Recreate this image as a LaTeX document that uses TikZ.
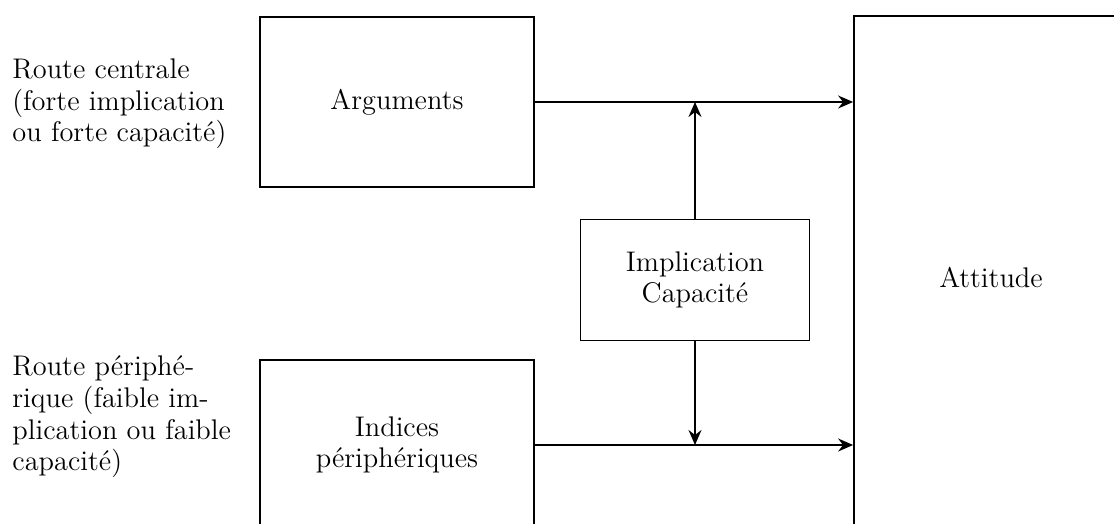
\documentclass[tikz,border=0pt]{standalone}
\usetikzlibrary{arrows.meta}

\tikzset{
	box/.style={draw, line width=0.9pt, inner sep=0pt, align=center},
	link/.style={line width=0.9pt, -{Stealth[length=7.5pt,width=6.5pt,inset=2.5pt]}},
	txt/.style={align=left, inner sep=0pt, anchor=west}
}

\begin{document}
\begin{tikzpicture}[x=0.5pt, y=-0.5pt, font=\fontsize{14.2}{15.8}\selectfont]
			%%%%% START %%%%%
			\useasboundingbox (0, 0) rectangle (1114, 524);
			\clip (0, 0) rectangle (1114, 524);
			
			\node[box, minimum width=137pt, minimum height=85pt] (arg) at (397, 102) {Arguments};
			\node[box, minimum width=137pt, minimum height=85pt] (ind) at (397, 445) {Indices\\périphériques};
			\node[box, minimum width=114.5pt, minimum height=60.5pt] (imp) at (695, 280) {Implication\\Capacité};
			\node[box, minimum width=137pt, minimum height=262pt] (att) at (991, 278) {Attitude};
			
			\node[txt] (routeC) at (12, 104) {Route centrale\\(forte implication\\ou forte capacité)};
			\node[txt] (routeP) at (12, 417) {Route périphé-\\rique (faible im-\\plication ou faible\\capacité)};
			
			\draw[link] (arg.east) -- (arg.east -| att.west);
			\draw[link] (ind.east) -- (ind.east -| att.west);
			\draw[link] (imp.north) -- (imp.north |- arg.east);
			\draw[link] (imp.south) -- (imp.south |- ind.east);
			%%%%% END %%%%%
\end{tikzpicture}
\end{document}
